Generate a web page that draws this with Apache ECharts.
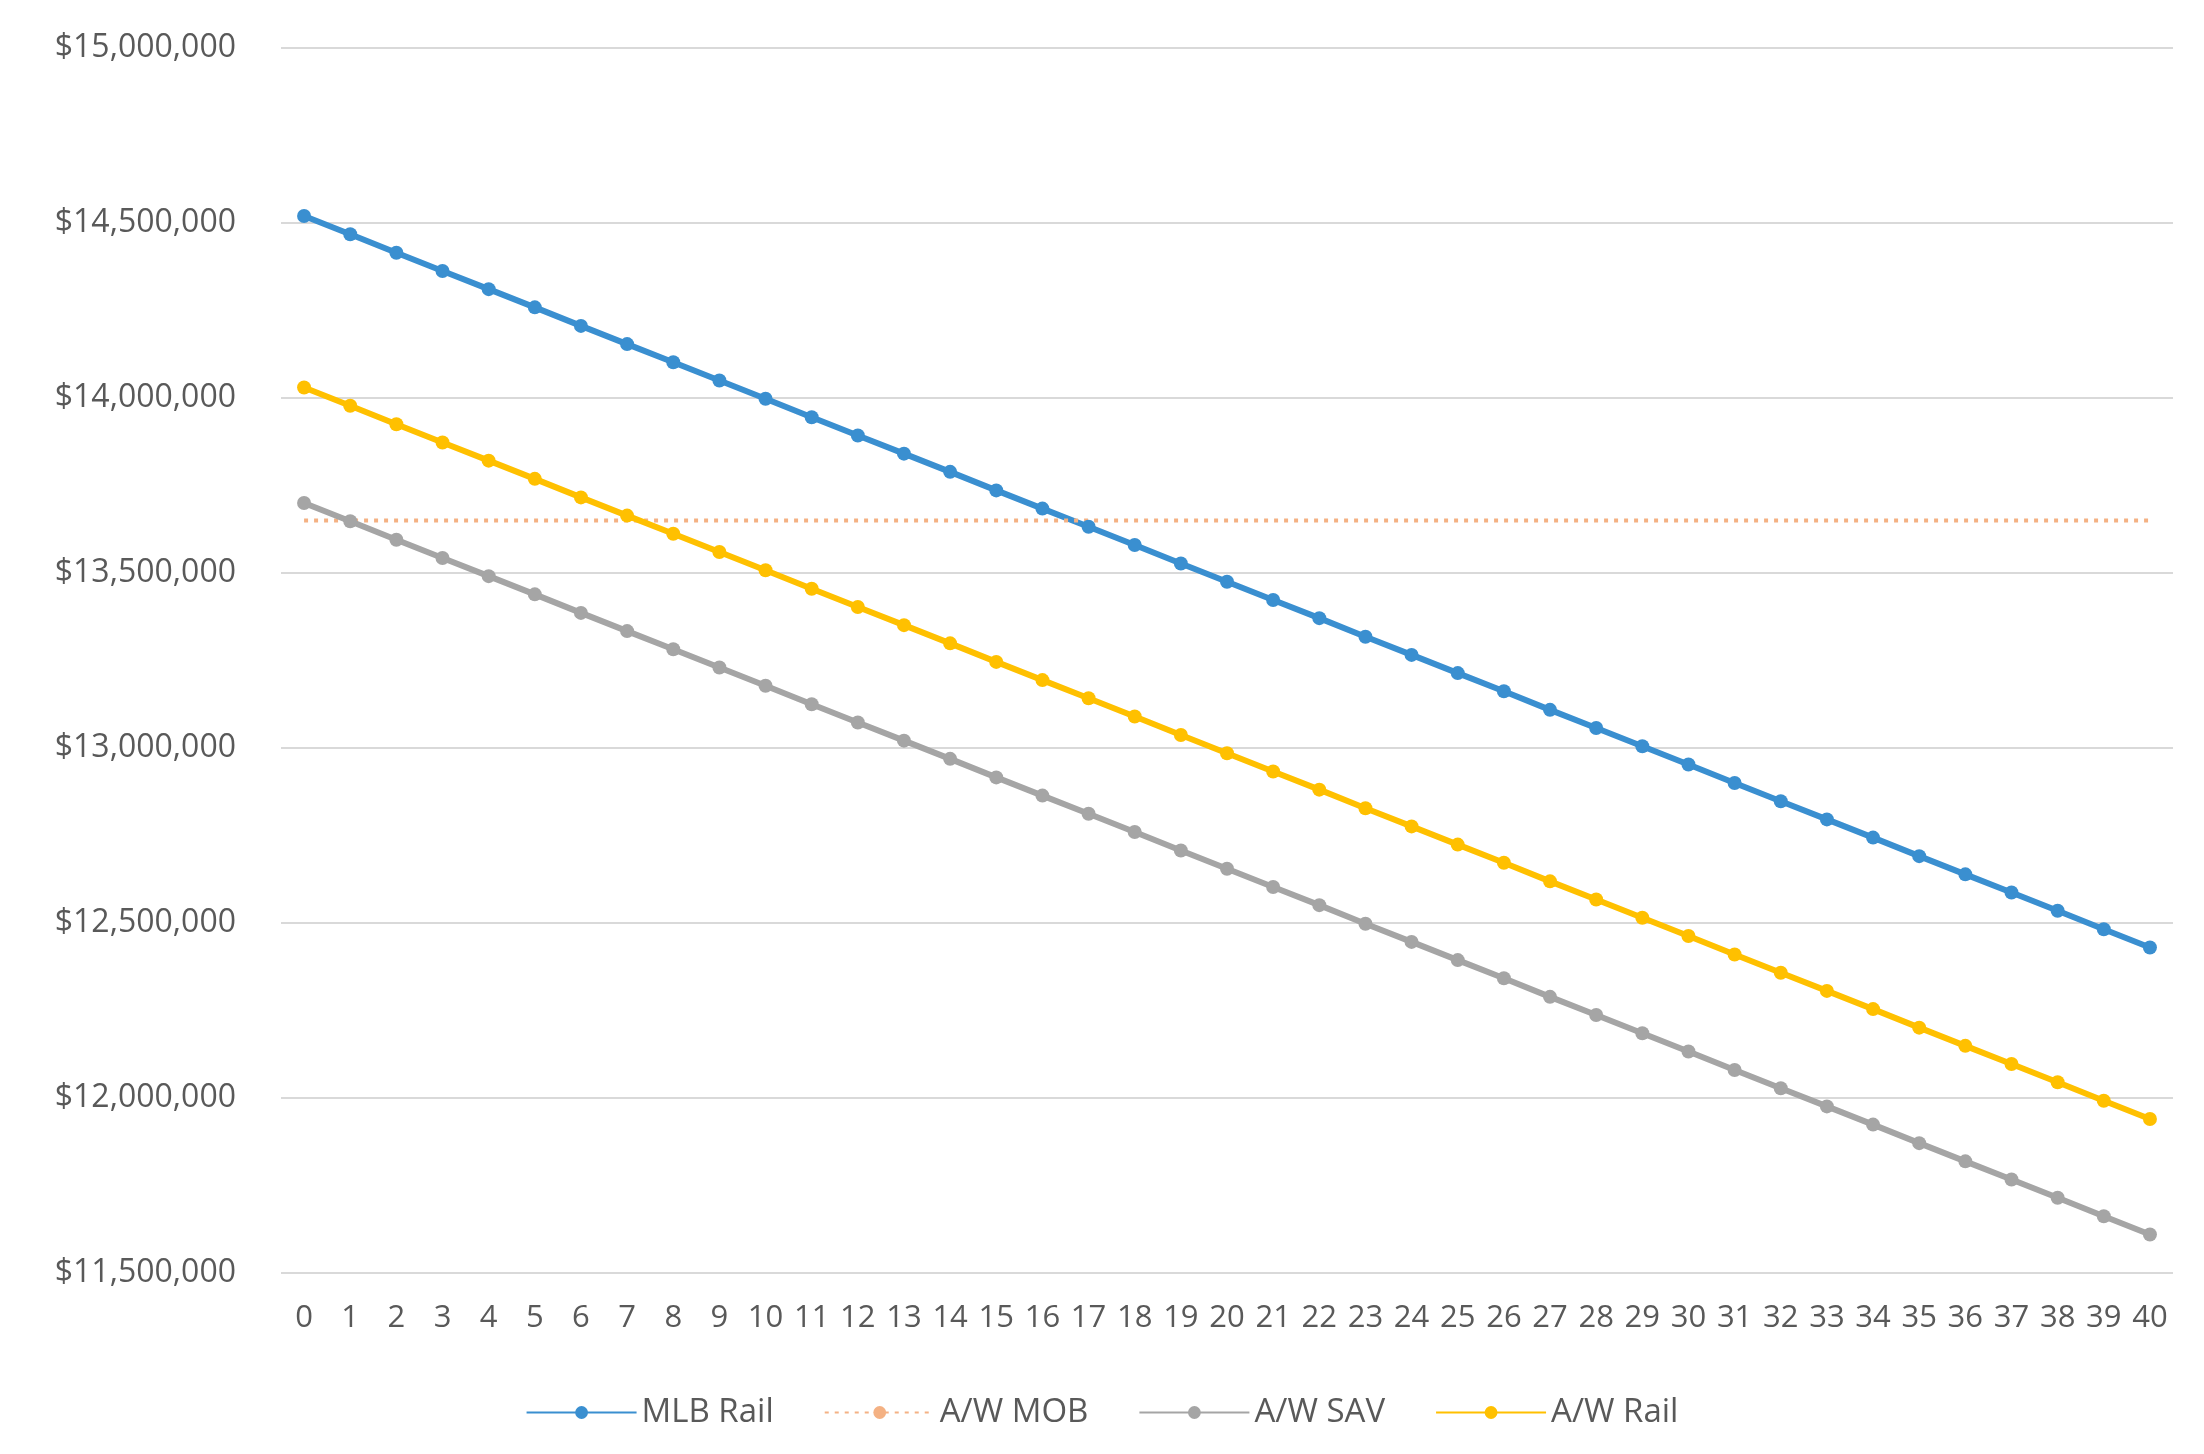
<!DOCTYPE html>
<html>
<head>
<meta charset="utf-8">
<script src="https://cdn.jsdelivr.net/npm/echarts@6/dist/echarts.min.js"></script>
<style>
  html, body { margin: 0; padding: 0; background: #fff; }
  #main { width: 2204px; height: 1454px; }
</style>
</head>
<body>
<div id="main"></div>
<script>
// years 0..40
var years = [];
for (var i = 0; i <= 40; i++) years.push(String(i));

// values in thousands of dollars
var mlbRail = [14520,14468,14415,14363,14311,14259,14206,14154,14102,14050,13998,13945,13893,13841,13789,13736,13684,13632,13580,13527,13475,13423,13371,13318,13266,13214,13162,13109,13057,13005,12953,12900,12848,12796,12744,12691,12639,12587,12535,12482,12430];
var awMob = [13650,13650,13650,13650,13650,13650,13650,13650,13650,13650,13650,13650,13650,13650,13650,13650,13650,13650,13650,13650,13650,13650,13650,13650,13650,13650,13650,13650,13650,13650,13650,13650,13650,13650,13650,13650,13650,13650,13650,13650,13650];
var awSav = [13700,13648,13595,13543,13491,13439,13386,13334,13282,13230,13178,13125,13073,13021,12969,12916,12864,12812,12760,12707,12655,12603,12551,12498,12446,12394,12342,12289,12237,12185,12133,12080,12028,11976,11924,11871,11819,11767,11715,11662,11610];
var awRail = [14030,13978,13925,13873,13821,13769,13716,13664,13612,13560,13508,13455,13403,13351,13299,13246,13194,13142,13090,13037,12985,12933,12881,12828,12776,12724,12672,12619,12567,12515,12463,12410,12358,12306,12254,12201,12149,12097,12045,11992,11940];

var toDollars = arr => arr.map(v => v * 1000);
var font = '"Open Sans", sans-serif';

var lineSeries = (name, data, color, dotted) => ({
    name: name,
    type: 'line',
    data: toDollars(data),
    symbol: dotted ? 'none' : 'circle',
    symbolSize: 14,
    itemStyle: { color: color },
    lineStyle: { color: color, width: dotted ? 4 : 6, type: dotted ? [4, 6] : 'solid' },
    emphasis: { disabled: true },
    animation: false
});

var chart = echarts.init(document.getElementById('main'));
chart.setOption({
    backgroundColor: '#fff',
    grid: { left: 281, right: 31, top: 48, bottom: 181 },
    legend: {
        bottom: 20,
        left: 'center',
        itemWidth: 110,
        itemHeight: 16,
        itemGap: 50,
        textStyle: { fontFamily: font, fontSize: 33, color: '#595959' },
        data: ['MLB Rail', 'A/W MOB', 'A/W SAV', 'A/W Rail']
    },
    xAxis: {
        type: 'category',
        data: years,
        boundaryGap: true,
        axisLine: { show: false },
        axisTick: { show: false },
        axisLabel: { interval: 0, margin: 30, fontFamily: font, fontSize: 31, color: '#595959' }
    },
    yAxis: {
        type: 'value',
        min: 11500000,
        max: 15000000,
        interval: 500000,
        axisLine: { show: false },
        axisTick: { show: false },
        splitLine: { lineStyle: { color: '#d9d9d9', width: 2 } },
        axisLabel: {
            margin: 45,
            fontFamily: font, fontSize: 32, color: '#595959',
            formatter: v => '$' + v.toLocaleString('en-US')
        }
    },
    series: [
        lineSeries('MLB Rail', mlbRail, '#3a8fd0', false),
        lineSeries('A/W MOB', awMob, '#f4b183', true),
        lineSeries('A/W SAV', awSav, '#a5a5a5', false),
        lineSeries('A/W Rail', awRail, '#ffc000', false)
    ]
});
</script>
</body>
</html>
